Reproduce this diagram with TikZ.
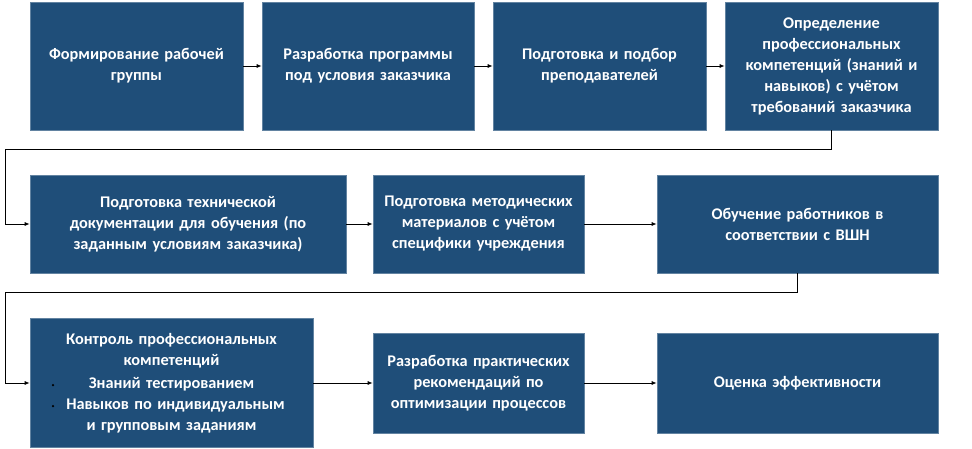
\documentclass[tikz,border=0pt]{standalone}
\usepackage{fontspec}
\setmainfont{Carlito}
\usetikzlibrary{arrows.meta}
\definecolor{bb}{RGB}{31, 78, 121}

\begin{document}
\begin{tikzpicture}[x=1pt,y=1pt,
  box/.style={rectangle, fill=bb, draw=bb!70!white, line width=0.6pt, text=white, align=center, inner sep=3pt, font=\fontsize{16.3}{21}\selectfont\bfseries},
  link/.style={line width=0.8pt, color=black, -{Latex[length=5pt,width=4pt]}}]
\useasboundingbox (0,0) rectangle (972,-449);
\node (1) [box, minimum width=213pt, minimum height=128pt, text width=205pt] at (136.5pt, -66pt) {Формирование рабочей\\группы};
\node (2) [box, minimum width=212pt, minimum height=128pt, text width=205pt] at (368pt, -66pt) {Разработка программы\\под условия заказчика};
\node (3) [box, minimum width=213pt, minimum height=128pt, text width=205pt] at (599.5pt, -66pt) {Подготовка и подбор\\преподавателей};
\node (4) [box, minimum width=213pt, minimum height=128pt, text width=205pt] at (831.5pt, -66pt) {Определение\\профессиональных\\компетенций (знаний и\\навыков) с учётом\\требований заказчика};
\node (5) [box, minimum width=316pt, minimum height=98pt, text width=305pt] at (188pt, -224pt) {Подготовка технической\\документации для обучения (по\\заданным условиям заказчика)};
\node (6) [box, minimum width=209pt, minimum height=98pt, text width=205pt] at (478.5pt, -224pt) {Подготовка методических\\материалов с учётом\\специфики учреждения};
\node (7) [box, minimum width=281pt, minimum height=98pt, text width=270pt] at (797.5pt, -224pt) {Обучение работников в\\соответствии с ВШН};
\node (8) [box, minimum width=283pt, minimum height=129pt, text width=275pt] at (171.5pt, -383pt) {Контроль профессиональных\\компетенций\\[2pt]
  Знаний тестированием\\
  \hspace*{8pt}Навыков по индивидуальным\\
  и групповым заданиям};
\node (8a) [circle, fill=black, inner sep=0pt, minimum size=2.5pt] at (53pt, -385pt) {};
\node (8b) [circle, fill=black, inner sep=0pt, minimum size=2.5pt] at (53pt, -406pt) {};
\node (9) [box, minimum width=209pt, minimum height=100pt, text width=205pt] at (478.5pt, -383pt) {Разработка практических\\рекомендаций по\\оптимизации процессов};
\node (10) [box, minimum width=281pt, minimum height=100pt, text width=270pt] at (797.5pt, -383pt) {Оценка эффективности};
\draw [link] (1) to (2);
\draw [link] (2) to (3);
\draw [link] (3) to (4);
\draw [link] (4.south) -- ++(0,-19pt) -| (5pt,-224pt) -- (5.west);
\draw [link] (5) to (6);
\draw [link] (6) to (7);
\draw [link] (7.south) -- ++(0,-19pt) -| (5pt,-383pt) -- (8.west);
\draw [link] (8) to (9);
\draw [link] (9) to (10);
\end{tikzpicture}
\end{document}
